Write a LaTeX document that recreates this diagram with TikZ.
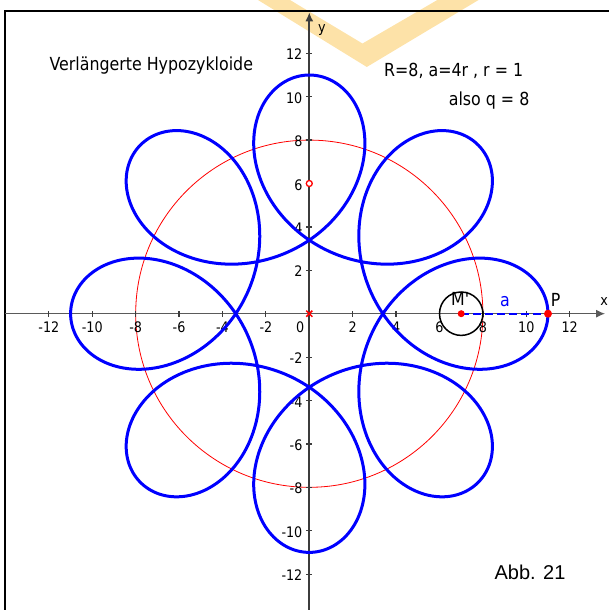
\documentclass[tikz,border=0pt]{standalone}
\usepackage{fontspec}
\setmainfont{DejaVu Sans}[FakeStretch=0.88]
\newfontfamily\abbfont{Liberation Sans}
\usepackage{tikz}
\usetikzlibrary{arrows.meta}
\definecolor{curveblue}{HTML}{0000FF}
\definecolor{circred}{HTML}{FF0000}
\definecolor{logo}{HTML}{FDE2A8}
\definecolor{axisgray}{HTML}{3C3C3C}
\definecolor{xgray}{HTML}{5A5A5A}

\begin{document}
\begin{tikzpicture}[x=21.7pt,y=21.7pt,>={Latex[length=9pt,width=8pt]},
  big/.style={font=\fontsize{18}{21}\selectfont,inner sep=0pt},
  num/.style={font=\fontsize{14.5}{17}\selectfont,inner sep=0pt},
  tickmark/.style={axisgray,line width=1.2pt},
  reddot/.style={circle,fill=circred,inner sep=0pt,minimum size=7pt}]
\useasboundingbox (-14.253,-13.654) rectangle (13.811,14.456);
% logo in the back
\fill[logo] (-2.364,14.456) -- (2.65,11.37) -- (7.8,14.456) -- (5.9,14.456)
  -- (2.45,12.45) -- (-0.889,14.456) -- cycle;
% frame
\draw[line width=2pt] (-14.02,-13.654) -- (-14.02,13.95) -- (13.811,13.95);
% circle R = 8
\coordinate (O) at (0,0);
\coordinate (M) at (7,0);
\coordinate (P) at (11,0);
\draw[circred,line width=0.8pt] (O) circle (8);
% axes
\draw[->,xgray,line width=1.2pt] (-14.02,0) -- (13.63,0);
\draw[->,axisgray,line width=1.8pt] (0,-13.654) -- (0,13.89);
\node[num,anchor=base west] (xlbl) at (13.40,0.355) {x};
\node[num,anchor=base west] (ylbl) at (0.40,12.96) {y};
\foreach \v in {-12,-10,-8,-6,-4,-2,2,4,6,8,10,12}{
  \draw[tickmark] (\v,-0.14) -- (\v,0.14);
  \draw[tickmark] (-0.14,\v) -- (0.14,\v);
  \node[num,anchor=base] (xl\v) at (\v,-0.857) {\v};
  \node[num,anchor=base east] (yl\v) at (-0.31,\v-0.30) {\v};
}
\node[num,anchor=base] (xl0) at (-0.415,-0.857) {0};
% hypotrochoid
\draw[curveblue,line width=3pt] plot[domain=0:360,samples=500,smooth,variable=\t]
  ({7*cos(\t)+4*cos(7*\t)},{7*sin(\t)-4*sin(7*\t)});
% rolling circle and a
\draw[line width=1.5pt] (M) circle (1);
\draw[curveblue,line width=2pt,dash pattern=on 8pt off 4pt] (M) -- (P);
\node[reddot] (Mdot) at (M) {};
\node[reddot,minimum size=8pt] (Pdot) at (P) {};
\node[circle,draw=circred,fill=white,line width=1.3pt,inner sep=0pt,minimum size=6pt] (S) at (0,6) {};
\draw[circred,line width=1.5pt] (-0.14,-0.14) -- (0.14,0.14) (-0.14,0.14) -- (0.14,-0.14);
\node[big,anchor=base west] (Mlbl) at (6.525,0.355) {M\textquotesingle};
\node[big,anchor=base west,text=curveblue] (albl) at (8.79,0.32) {a};
\node[big,anchor=base west] (Plbl) at (11.12,0.32) {P};
% texts
\node[big,anchor=base west] (title) at (-11.98,11.198) {Verlängerte Hypozykloide};
\node[big,anchor=base west] (param) at (3.44,10.92) {R=8, a=4r , r = 1};
\node[big,anchor=base west] (qval) at (6.42,9.61) {also q = 8};
\node[font=\abbfont\fontsize{20}{24}\selectfont,inner sep=0pt,anchor=base west] (abb) at (8.53,-12.24) {Abb. 21};
\end{tikzpicture}
\end{document}
